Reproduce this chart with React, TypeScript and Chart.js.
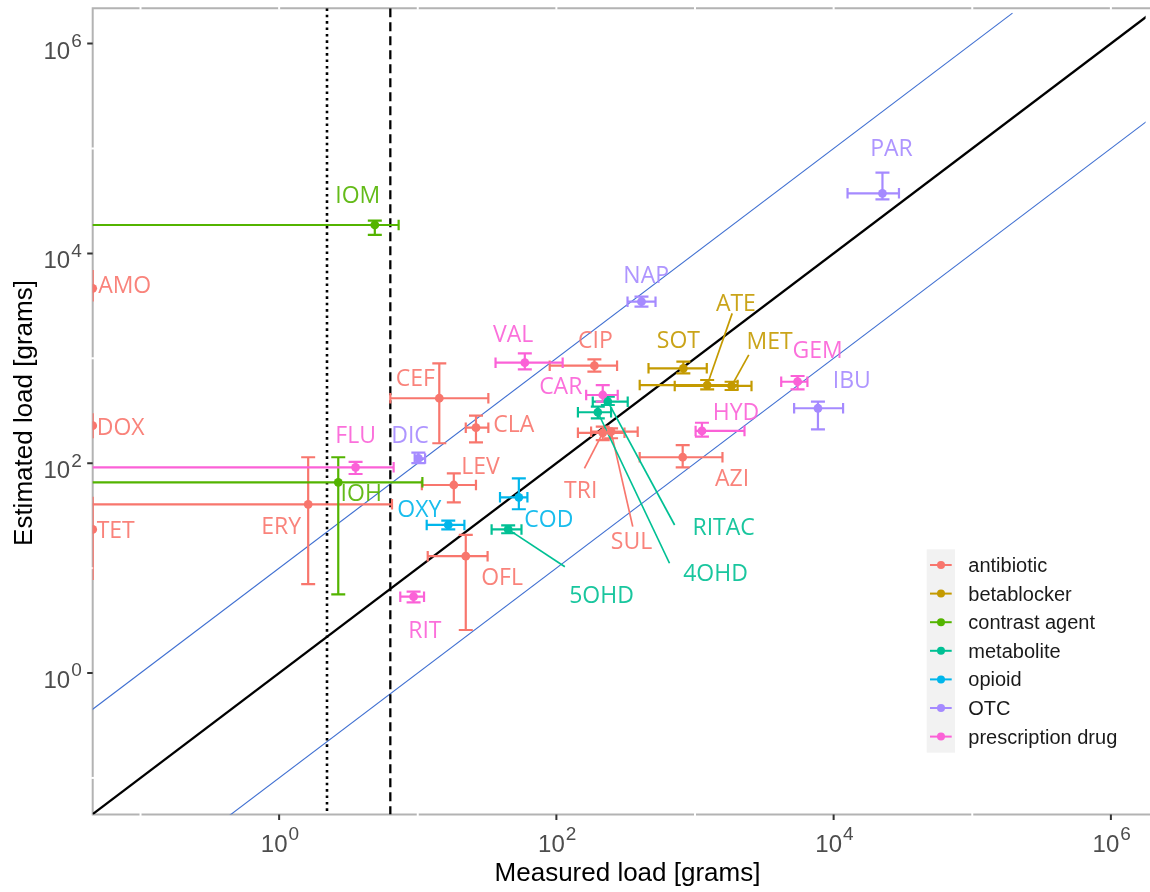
import React, { useEffect, useRef } from 'react';
import { Chart, registerables } from 'chart.js';

Chart.register(...registerables);

// ---------------- data ----------------
const categories = ['antibiotic', 'betablocker', 'contrast agent', 'metabolite', 'opioid', 'OTC', 'prescription drug'];
const categoryColors = ['#F8766D', '#C49A00', '#53B400', '#00C094', '#00B6EB', '#A58AFF', '#FB61D7'];

const compounds = ['AMO', 'DOX', 'TET', 'ERY', 'CEF', 'CLA', 'LEV', 'OFL', 'CIP', 'TRI', 'SUL', 'AZI',
  'SOT', 'ATE', 'MET', 'IOM', 'IOH', '4OHD', 'RITAC', '5OHD', 'OXY', 'COD',
  'DIC', 'NAP', 'IBU', 'PAR', 'FLU', 'RIT', 'VAL', 'CAR', 'HYD', 'GEM'];
const compoundCategory = [0, 0, 0, 0, 0, 0, 0, 0, 0, 0, 0, 0,
  1, 1, 1, 2, 2, 3, 3, 3, 4, 4,
  5, 5, 5, 5, 6, 6, 6, 6, 6, 6];

// measured load [g] (0 = below detection, drawn at the left edge)
const measured = [0, 0, 0, 1.62, 14.3, 26.3, 18.2, 22.2, 188, 216, 248, 815,
  824, 1224, 1836, 4.9, 2.67, 199, 235, 44.9, 16.6, 53.6,
  10.1, 411, 7706, 22500, 3.56, 9.33, 59.2, 216, 1122, 5495];
const measuredLow = [0, 0, 0, 0, 6.34, 22.2, 10.7, 11.8, 89.5, 143, 178, 399,
  462, 399, 714, 0, 0, 143, 183, 34.1, 11.6, 39.2,
  9.5, 326, 5188, 12600, 0, 7.48, 36.4, 164, 1010, 4186];
const measuredHigh = [0, 0, 0, 6.52, 32.3, 32.3, 26.3, 31.9, 274, 310, 386, 1578,
  1216, 2028, 2556, 7.28, 10.8, 248, 327, 56.0, 21.7, 61.8,
  11.3, 519, 11700, 29600, 6.70, 11.1, 111, 277, 2275, 6471];
// estimated load [g]
const estimated = [4650, 228, 23.4, 40.6, 416, 218, 62, 13.0, 851, 195, 200, 114,
  802, 556, 545, 18660, 65.8, 306, 386, 23.4, 25.8, 47.3,
  111, 3467, 334, 37400, 91.4, 5.34, 908, 447, 203, 598];
const estimatedLow = [3470, 173, 7.7, 7.05, 155, 158, 42.4, 2.57, 745, 166, 173, 91.4,
  719, 506, 499, 15000, 5.63, 268, 359, 21.5, 23.4, 36.4,
  100, 3105, 210, 32800, 78.9, 4.72, 785, 386, 179, 506];
const estimatedHigh = [6950, 299, 48, 114, 896, 284, 80, 20.7, 978, 223, 215, 149,
  929, 621, 598, 20500, 114, 346, 430, 25.6, 28.3, 71.8,
  126, 3865, 386, 58800, 103, 5.96, 1116, 556, 243, 678];

// label placement (pixel offsets from the point), leader ends relative to label centre
const labelDx = [32, 28, 23, -27, -24, 37.8, 26.7, 36.3, 1, -22, 20.4, 49.3,
  -5, 28.7, 38, -17, 23, 117.7, 115.8, 93.3, -29, 30,
  -8.3, 4.7, 33.8, 9, 0, 11.3, -11.7, -42, 34, 20];
const labelDy = [-3, 1, 0, 21.5, -20.3, -3.7, -19, 20.7, -26, 57.3, 109.6, 21,
  -28.8, -82.2, -45, -30, 10.5, 161, 125, 65, -16.3, 21.7,
  -23.6, -26.7, -28.3, -45.7, -32.6, 33.3, -28.7, -9, -19.3, -32.2];
const leaderDx = [null, null, null, null, null, null, null, null, null, 3.7, 1.3, null,
  null, -3.7, -20.8, null, null, -46, -49, -36.6, null, null,
  null, null, null, null, null, null, null, null, null, null];
const leaderDy = [null, null, null, null, null, null, null, null, null, -21.7, -14.6, null,
  null, 10.5, 14, null, null, -10, -1.7, -27.6, null, null,
  null, null, null, null, null, null, null, null, null, null];

// axes / reference lines
const X_MIN = 0.0452;
const X_MAX = 1.78e6;
const Y_MIN = 0.0448;
const Y_MAX = 2.17e6;
const xTickExponents = [0, 2, 4, 6];
const yTickExponents = [0, 2, 4, 6];
const DOTTED_LIMIT = 2.21;
const DASHED_LIMIT = 6.34;
const BAND_FACTOR = 10;
const UPPER_BAND_END = 1.95e5;

const X_TITLE = 'Measured load [grams]';
const Y_TITLE = 'Estimated load [grams]';

// ---------------- drawing helpers ----------------
const LABEL_FONT = '23px "Open Sans"';
const AXIS_FONT = '"Liberation Sans", Arial, sans-serif';

function drawPower(ctx: CanvasRenderingContext2D, exp: number, x: number, baseline: number, align: 'center' | 'right') {
  ctx.font = `24px ${AXIS_FONT}`;
  const w10 = ctx.measureText('10').width;
  ctx.font = `19px ${AXIS_FONT}`;
  const wE = ctx.measureText(String(exp)).width;
  const total = w10 + 1 + wE;
  const start = align === 'center' ? x - total / 2 : x - total;
  ctx.textAlign = 'left';
  ctx.textBaseline = 'alphabetic';
  ctx.fillStyle = '#4D4D4D';
  ctx.font = `24px ${AXIS_FONT}`;
  ctx.fillText('10', start, baseline);
  ctx.font = `19px ${AXIS_FONT}`;
  ctx.fillText(String(exp), start + w10 + 1, baseline - 11.7);
}

const overlayPlugin = {
  id: 'overlay',
  beforeDatasetsDraw(chart: any) {
    const ctx: CanvasRenderingContext2D = chart.ctx;
    const a = chart.chartArea;
    const xs = chart.scales.x;
    const ys = chart.scales.y;
    const X = (v: number) => (v > 0 ? xs.getPixelForValue(v) : a.left - 30);
    const Y = (v: number) => ys.getPixelForValue(v);

    ctx.save();
    // panel frame
    ctx.strokeStyle = '#B3B3B3';
    ctx.lineWidth = 2;
    ctx.beginPath();
    ctx.moveTo(a.left, a.bottom + 1);
    ctx.lineTo(a.left, a.top);
    ctx.lineTo(a.right + 5, a.top);
    ctx.moveTo(a.left - 1, a.bottom);
    ctx.lineTo(a.right + 5, a.bottom);
    ctx.stroke();
    // white grid gaps crossing the frame
    ctx.fillStyle = '#FFFFFF';
    for (let d = -1; d <= 6; d++) {
      const gx = xs.getPixelForValue(Math.pow(10, d));
      ctx.fillRect(gx - 1, a.top - 1.5, 2, 3);
      if (d % 2 !== 0) ctx.fillRect(gx - 1, a.bottom - 1.5, 2, 3);
      const gy = ys.getPixelForValue(Math.pow(10, d));
      if (d % 2 !== 0) ctx.fillRect(a.left - 1.5, gy - 1, 3, 2);
    }

    // clip to panel
    ctx.beginPath();
    ctx.rect(a.left, a.top, a.right - a.left, a.bottom - a.top);
    ctx.clip();

    // 1:1 line and +/- one decade band
    const seg = (x0: number, y0: number, x1: number, y1: number) => {
      ctx.beginPath();
      ctx.moveTo(X(x0), Y(y0));
      ctx.lineTo(X(x1), Y(y1));
      ctx.stroke();
    };
    ctx.setLineDash([]);
    ctx.strokeStyle = '#3F6FD1';
    ctx.lineWidth = 1.1;
    seg(X_MIN / 2, (X_MIN / 2) * BAND_FACTOR, UPPER_BAND_END, UPPER_BAND_END * BAND_FACTOR);
    seg(X_MIN, X_MIN / BAND_FACTOR, X_MAX * 2, (X_MAX * 2) / BAND_FACTOR);
    ctx.strokeStyle = '#000000';
    ctx.lineWidth = 2.3;
    seg(X_MIN, X_MIN, X_MAX * 2, X_MAX * 2);

    // detection limits
    ctx.lineWidth = 2.6;
    ctx.setLineDash([2.6, 3.8]);
    ctx.beginPath();
    ctx.moveTo(Math.round(X(DOTTED_LIMIT)), a.top);
    ctx.lineTo(Math.round(X(DOTTED_LIMIT)), a.bottom);
    ctx.stroke();
    ctx.lineWidth = 2.3;
    ctx.setLineDash([9, 5]);
    ctx.beginPath();
    ctx.moveTo(X(DASHED_LIMIT), a.top);
    ctx.lineTo(X(DASHED_LIMIT), a.bottom);
    ctx.stroke();
    ctx.setLineDash([]);

    // error bars
    ctx.lineWidth = 2.2;
    for (let i = 0; i < compounds.length; i++) {
      const col = categoryColors[compoundCategory[i]];
      ctx.strokeStyle = col;
      const px = measured[i] > 0 ? X(measured[i]) : xs.getPixelForValue(X_MIN);
      const py = Y(estimated[i]);
      // horizontal
      if (measuredHigh[i] > 0) {
        const x0 = X(measuredLow[i]);
        const x1 = X(measuredHigh[i]);
        ctx.beginPath();
        ctx.moveTo(x0, py);
        ctx.lineTo(x1, py);
        if (measuredLow[i] > 0) {
          ctx.moveTo(x0, py - 5.25);
          ctx.lineTo(x0, py + 5.25);
        }
        ctx.moveTo(x1, py - 5.25);
        ctx.lineTo(x1, py + 5.25);
        ctx.stroke();
      }
      // vertical
      const y0 = Y(estimatedLow[i]);
      const y1 = Y(estimatedHigh[i]);
      ctx.beginPath();
      ctx.moveTo(px, y0);
      ctx.lineTo(px, y1);
      if (measured[i] > 0) {
        ctx.moveTo(px - 7, y0);
        ctx.lineTo(px + 7, y0);
        ctx.moveTo(px - 7, y1);
        ctx.lineTo(px + 7, y1);
      }
      ctx.stroke();
      // leader segments
      if (leaderDx[i] !== null) {
        ctx.lineWidth = 1.7;
        ctx.beginPath();
        ctx.moveTo(px, py);
        ctx.lineTo(px + labelDx[i] + (leaderDx[i] as number), py + labelDy[i] + (leaderDy[i] as number));
        ctx.stroke();
        ctx.lineWidth = 2.2;
      }
    }
    ctx.restore();
  },
  afterDatasetsDraw(chart: any) {
    const ctx: CanvasRenderingContext2D = chart.ctx;
    const a = chart.chartArea;
    const xs = chart.scales.x;
    const ys = chart.scales.y;
    ctx.save();

    // text labels
    ctx.font = LABEL_FONT;
    ctx.textAlign = 'center';
    ctx.textBaseline = 'alphabetic';
    for (let i = 0; i < compounds.length; i++) {
      const px = measured[i] > 0 ? xs.getPixelForValue(measured[i]) : xs.getPixelForValue(X_MIN);
      const py = ys.getPixelForValue(estimated[i]);
      ctx.fillStyle = categoryColors[compoundCategory[i]];
      ctx.globalAlpha = 0.9;
      ctx.fillText(compounds[i], px + labelDx[i], py + labelDy[i] + 8.2);
    }
    ctx.globalAlpha = 1;

    // ticks
    ctx.strokeStyle = '#333333';
    ctx.lineWidth = 2;
    ctx.beginPath();
    for (const e of xTickExponents) {
      const tx = xs.getPixelForValue(Math.pow(10, e));
      ctx.moveTo(tx, a.bottom);
      ctx.lineTo(tx, a.bottom + 5.5);
    }
    for (const e of yTickExponents) {
      const ty = ys.getPixelForValue(Math.pow(10, e));
      ctx.moveTo(a.left - 5.5, ty);
      ctx.lineTo(a.left, ty);
    }
    ctx.stroke();
    for (const e of xTickExponents) {
      const tx = xs.getPixelForValue(Math.pow(10, e));
      drawPower(ctx, e, tx + 0.8, a.bottom + 37.2, 'center');
    }
    for (const e of yTickExponents) {
      const ty = ys.getPixelForValue(Math.pow(10, e));
      drawPower(ctx, e, a.left - 11, ty + 15, 'right');
    }

    // axis titles
    ctx.fillStyle = '#000000';
    ctx.font = `26px ${AXIS_FONT}`;
    ctx.textAlign = 'center';
    ctx.textBaseline = 'alphabetic';
    ctx.fillText(X_TITLE, 627.5, 881);
    ctx.save();
    ctx.translate(32, 413);
    ctx.rotate(-Math.PI / 2);
    ctx.fillText(Y_TITLE, 0, 0);
    ctx.restore();

    // legend
    const lx = 926.7;
    const ly0 = 565;
    const step = 28.6;
    ctx.fillStyle = '#F2F2F2';
    ctx.fillRect(lx, 549.3, 28.3, 203.4);
    for (let k = 0; k < categories.length; k++) {
      const yk = ly0 + k * step;
      ctx.strokeStyle = categoryColors[k];
      ctx.lineWidth = 2;
      ctx.beginPath();
      ctx.moveTo(930, yk);
      ctx.lineTo(951.7, yk);
      ctx.stroke();
      ctx.fillStyle = categoryColors[k];
      ctx.beginPath();
      ctx.arc(941, yk, 4, 0, Math.PI * 2);
      ctx.fill();
      ctx.fillStyle = '#1A1A1A';
      ctx.font = `20px ${AXIS_FONT}`;
      ctx.textAlign = 'left';
      ctx.fillText(categories[k], 968.3, yk + 7);
    }
    ctx.restore();
  },
};

export default function App() {
  const canvasRef = useRef<HTMLCanvasElement | null>(null);

  useEffect(() => {
    const canvas = canvasRef.current;
    if (!canvas) return;
    const datasets = categories.map((cat, k) => ({
      label: cat,
      data: compounds
        .map((_, i) => i)
        .filter((i) => compoundCategory[i] === k)
        .map((i) => ({ x: measured[i] > 0 ? measured[i] : X_MIN, y: estimated[i] })),
      backgroundColor: categoryColors[k],
      borderColor: categoryColors[k],
      borderWidth: 0,
      pointRadius: 4.4,
      pointHoverRadius: 4.4,
      clip: 0,
    }));
    const chart = new Chart(canvas, {
      type: 'scatter',
      data: { datasets },
      options: {
        animation: false,
        responsive: false,
        maintainAspectRatio: false,
        devicePixelRatio: 1,
        layout: { padding: { left: 92.7, top: 8.3, right: 0, bottom: 77.5 } },
        scales: {
          x: { type: 'logarithmic', min: X_MIN, max: X_MAX, bounds: 'data', display: false },
          y: { type: 'logarithmic', min: Y_MIN, max: Y_MAX, bounds: 'data', display: false },
        },
        plugins: {
          legend: { display: false },
          tooltip: { enabled: false },
        },
        events: [],
      },
      plugins: [overlayPlugin],
    } as any);
    return () => chart.destroy();
  }, []);

  return (
    <div style={{ position: 'absolute', left: 0, top: 0, width: 1150, height: 892, background: '#FFFFFF' }}>
      <canvas ref={canvasRef} width={1150} height={892} style={{ display: 'block', width: 1150, height: 892 }} />
    </div>
  );
}
